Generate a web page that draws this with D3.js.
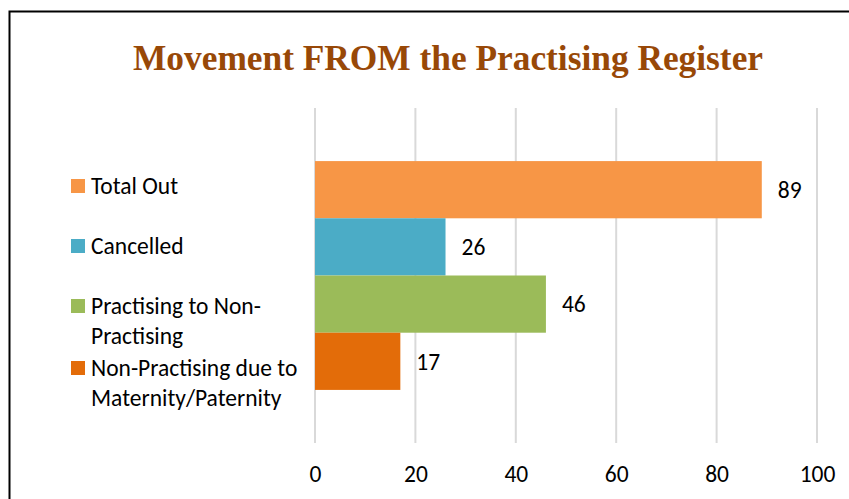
<!DOCTYPE html>
<html>
<head>
<meta charset="utf-8">
<script src="https://cdn.jsdelivr.net/npm/d3@7"></script>
<style>
  body { margin: 0; background: #fff; }
  svg { display: block; }
  .tick text { font-family: Carlito, Calibri, "Open Sans", sans-serif; }
</style>
</head>
<body>
<div id="wrapper"></div>
<script>
// data
const series = ["Total Out", "Cancelled", "Practising to Non-Practising", "Non-Practising due to Maternity/Paternity"]
const legendLines = [["Total Out"], ["Cancelled"], ["Practising to Non-", "Practising"], ["Non-Practising due to", "Maternity/Paternity"]]
const values = [89, 26, 46, 17]
const colors = ["#F79646", "#4BACC6", "#9BBB59", "#E36C09"]
const xTicks = [0, 20, 40, 60, 80, 100]

const width = 849, height = 499
const font = 'Carlito, Calibri, "Open Sans", sans-serif'

const svg = d3.select("#wrapper").append("svg")
  .attr("width", width)
  .attr("height", height)

// outer frame
svg.append("rect")
  .attr("x", 9.5).attr("y", 11.5)
  .attr("width", 900).attr("height", 600)
  .attr("fill", "none")
  .attr("stroke", "#000")
  .attr("stroke-width", 2)

svg.append("text")
  .attr("x", 448).attr("y", 70)
  .attr("text-anchor", "middle")
  .attr("font-family", '"Liberation Serif", "DejaVu Serif", serif')
  .attr("font-weight", "bold")
  .attr("font-size", 36)
  .attr("fill", "#984807")
  .attr("textLength", 630)
  .attr("lengthAdjust", "spacingAndGlyphs")
  .text("Movement FROM the Practising Register")

// scales
const xScale = d3.scaleLinear().domain([0, 100]).range([315, 817])
const plotTop = 108, plotBottom = 443
const band = d3.scaleBand().domain(["all"]).range([plotTop, plotBottom]).paddingInner(0).paddingOuter(0.232)
const yScale = d3.scaleBand().domain(series).range([0, band.bandwidth()])

// gridlines
svg.append("g").selectAll("line")
  .data(xTicks)
  .join("line")
  .attr("x1", d => xScale(d)).attr("x2", d => xScale(d))
  .attr("y1", plotTop).attr("y2", plotBottom)
  .attr("stroke", "#d9d9d9")
  .attr("stroke-width", 2)

// bars
const bars = svg.append("g")
  .attr("transform", `translate(0, ${band("all")})`)

bars.selectAll("rect")
  .data(series)
  .join("rect")
  .attr("x", xScale(0))
  .attr("y", d => yScale(d))
  .attr("width", (d, i) => xScale(values[i]) - xScale(0))
  .attr("height", yScale.bandwidth())
  .attr("fill", (d, i) => colors[i])

bars.selectAll("text")
  .data(series)
  .join("text")
  .attr("x", (d, i) => xScale(values[i]) + 16)
  .attr("y", d => yScale(d) + yScale.bandwidth() / 2)
  .attr("dy", "0.35em")
  .attr("font-family", font)
  .attr("font-size", 23.5)
  .attr("fill", "#000")
  .text((d, i) => values[i])

// x axis
const xAxis = svg.append("g")
  .attr("transform", `translate(0, ${plotBottom})`)
  .call(d3.axisBottom(xScale).tickValues(xTicks).tickSize(0).tickPadding(22))
xAxis.select(".domain").remove()
xAxis.selectAll("text").attr("font-size", 23.5).attr("fill", "#000")

// legend
const legendY = [186, 246, 306, 368]
const legend = svg.append("g")
legend.selectAll("rect")
  .data(series)
  .join("rect")
  .attr("x", 71)
  .attr("y", (d, i) => legendY[i] - 7)
  .attr("width", 14).attr("height", 14)
  .attr("fill", (d, i) => colors[i])

legend.selectAll("text")
  .data(legendLines)
  .join("text")
  .attr("x", 91)
  .attr("y", (d, i) => legendY[i])
  .attr("font-family", font)
  .attr("font-size", 23.5)
  .attr("fill", "#000")
  .selectAll("tspan")
  .data(d => d)
  .join("tspan")
  .attr("x", 91)
  .attr("dy", (d, i) => i === 0 ? "0.35em" : 30)
  .text(d => d)
</script>
</body>
</html>
